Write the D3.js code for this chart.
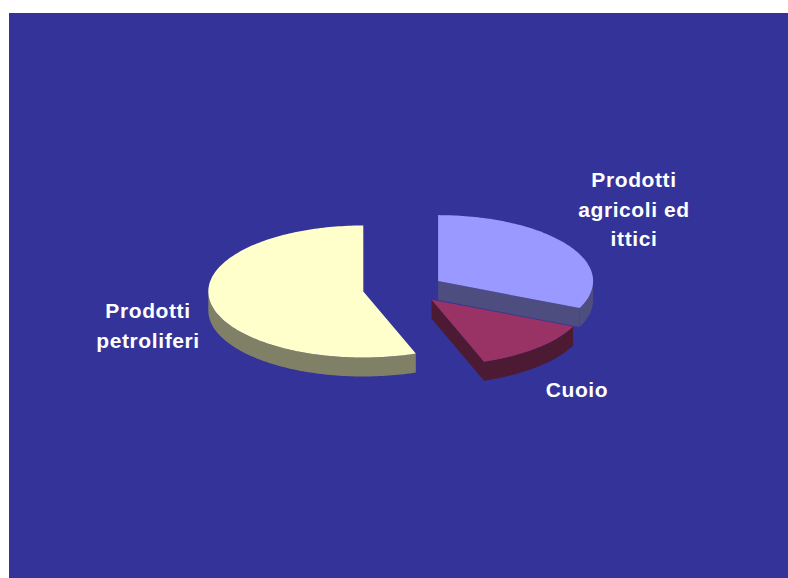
<!DOCTYPE html>
<html>
<head>
<meta charset="utf-8">
<script src="https://cdn.jsdelivr.net/npm/d3@7"></script>
<style>
    body { margin: 0; background: #ffffff; }
    svg { display: block; }
    .pie-label { fill: #ffffff; font-family: "Liberation Sans", Arial, sans-serif; font-weight: bold; font-size: 21px; letter-spacing: 0.6px; }
</style>
</head>
<body>
<svg id="chart" width="788" height="578"></svg>
<script>
// data (share in %)
const categories = ["Prodotti agricoli ed ittici", "Cuoio", "Prodotti petroliferi"];
const values = [31.7, 12.8, 55.5];
const colors = ["#9999ff", "#993366", "#ffffcc"];

// layout
const width = 788, height = 578;
const cx = 403.7, cy = 289, rx = 155, ry = 66, depth = 19;
const explodeX = 41, explodeY = 14.5;
const labelAt = {
    "Prodotti agricoli ed ittici": { x: 634, y: 187 },
    "Cuoio": { x: 577, y: 397 },
    "Prodotti petroliferi": { x: 148, y: 318 }
};
const lineHeight = 29.5;

const svg = d3.select("#chart");

svg.append("rect")
    .attr("x", 9)
    .attr("y", 13)
    .attr("width", width - 9)
    .attr("height", height - 13)
    .attr("fill", "#333399");

const pie = d3.pie().sort(null).value(d => d.value);
const arcs = pie(categories.map((c, i) => ({ name: c, value: values[i], color: colors[i] })));

// projected point on the tilted disc: t clockwise from 12 o'clock
const pt = (s, t, dz = 0) => [s.x + rx * Math.sin(t), s.y - ry * Math.cos(t) + dz];
const sampleArc = (s, a0, a1, dz) => {
    const n = Math.max(2, Math.ceil((a1 - a0) / 0.02));
    return d3.range(n + 1).map(k => pt(s, a0 + (a1 - a0) * k / n, dz));
};
const line = d3.line();

const slices = arcs.map(a => {
    const mid = (a.startAngle + a.endAngle) / 2;
    return {
        ...a,
        x: cx + explodeX * Math.sin(mid),
        y: cy - explodeY * Math.cos(mid)
    };
});

// back to front
slices.sort((a, b) => d3.ascending(a.y, b.y));

const g = svg.append("g");

slices.forEach(s => {
    const top = d3.color(s.data.color);
    const side = d3.rgb(top.r * 0.5, top.g * 0.5, top.b * 0.5);
    const gs = g.append("g").classed("slice", true);
    const apex = [s.x, s.y];
    const a0 = s.startAngle, a1 = s.endAngle;

    // radial faces
    if (Math.sin(a0) < -1e-6) {
        const p = pt(s, a0);
        gs.append("path")
            .attr("d", line([apex, p, [p[0], p[1] + depth], [apex[0], apex[1] + depth]]) + "Z")
            .attr("fill", side);
    }
    if (Math.sin(a1) > 1e-6) {
        const p = pt(s, a1);
        gs.append("path")
            .attr("d", line([apex, p, [p[0], p[1] + depth], [apex[0], apex[1] + depth]]) + "Z")
            .attr("fill", side);
    }

    // outer rim, front half only
    const r0 = Math.max(a0, Math.PI / 2), r1 = Math.min(a1, 3 * Math.PI / 2);
    if (r1 > r0) {
        const upper = sampleArc(s, r0, r1, 0);
        const lower = sampleArc(s, r0, r1, depth).reverse();
        gs.append("path")
            .attr("d", line(upper.concat(lower)) + "Z")
            .attr("fill", side);
    }

    // top face
    gs.append("path")
        .attr("d", line([apex].concat(sampleArc(s, a0, a1, 0))) + "Z")
        .attr("fill", top);
});

// labels
const words = {
    "Prodotti agricoli ed ittici": ["Prodotti", "agricoli ed", "ittici"],
    "Cuoio": ["Cuoio"],
    "Prodotti petroliferi": ["Prodotti", "petroliferi"]
};

svg.selectAll("text.pie-label")
    .data(arcs)
    .enter()
    .append("text")
    .classed("pie-label", true)
    .attr("text-anchor", "middle")
    .attr("x", d => labelAt[d.data.name].x)
    .attr("y", d => labelAt[d.data.name].y)
    .selectAll("tspan")
    .data(d => words[d.data.name].map(w => ({ w, x: labelAt[d.data.name].x })))
    .enter()
    .append("tspan")
    .attr("x", d => d.x)
    .attr("dy", (d, i) => i === 0 ? 0 : lineHeight)
    .text(d => d.w);
</script>
</body>
</html>
